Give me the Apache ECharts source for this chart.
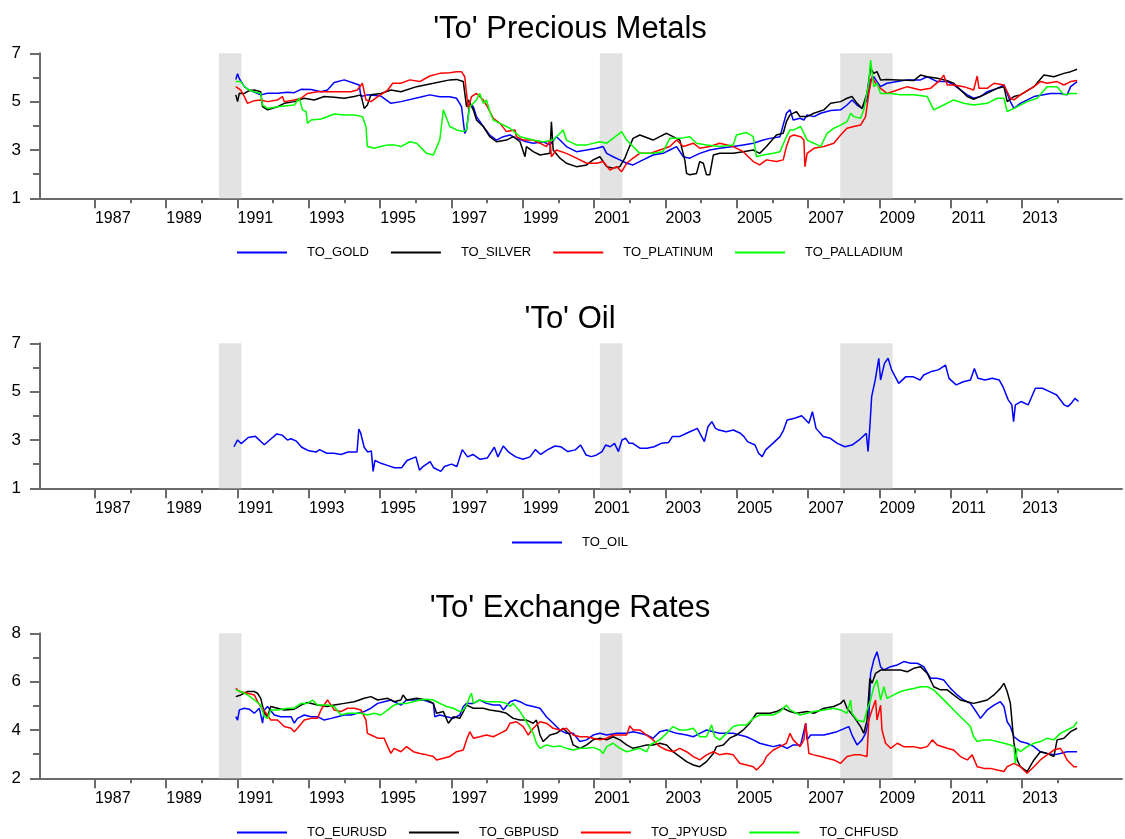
<!DOCTYPE html>
<html><head><meta charset="utf-8">
<script src="https://cdn.jsdelivr.net/npm/echarts@6/dist/echarts.min.js"></script>
<style>html,body{margin:0;padding:0;background:#fff}#c{width:1125px;height:839px}</style>
</head><body><div id="c"></div>
<script>
// ---------- data (decimal year, value) ----------
const gold = [[1990.95,5.92],[1991.0,6.15],[1991.05,5.95],[1991.19,5.62],[1991.33,5.48],[1991.65,5.28],[1991.84,5.35],[1992.12,5.35],[1992.4,5.39],[1992.59,5.37],[1992.78,5.51],[1993.06,5.5],[1993.34,5.41],[1993.52,5.48],[1993.71,5.79],[1993.99,5.9],[1994.27,5.76],[1994.41,5.69],[1994.46,5.21],[1994.64,5.28],[1995.02,5.23],[1995.3,4.93],[1995.58,5.0],
[1996.11,5.18],[1996.39,5.28],[1996.67,5.2],[1996.95,5.2],[1997.14,5.14],[1997.28,4.79],[1997.37,3.69],[1997.42,3.83],[1997.51,4.93],[1997.61,4.79],[1997.7,4.38],[1997.89,3.97],[1998.07,3.62],[1998.26,3.41],[1998.45,3.55],[1998.64,3.62],[1998.82,3.48],[1999.1,3.34],[1999.29,3.28],[1999.57,3.34],[1999.76,3.21],[1999.94,3.55],[2000.04,3.41],[2000.22,3.14],[2000.5,2.93],[2000.79,3.0],[2001.07,3.07],[2001.25,3.14],[2001.35,2.86],[2001.53,2.72],[2001.72,2.59],[2001.91,2.45],[2002.09,2.38],[2002.37,2.59],[2002.65,2.79],[2002.93,2.86],[2003.12,3.0],[2003.31,3.14],[2003.5,2.72],[2003.68,2.66],[2003.96,2.86],[2004.24,3.0],[2004.52,3.07],[2004.9,3.14],[2005.18,3.21],[2005.46,3.28],[2005.74,3.41],[2005.93,3.48],[2006.21,3.55],[2006.39,4.52],[2006.49,4.66],[2006.58,4.24],[2006.77,4.31],
[2006.88,4.24],[2006.97,4.45],[2007.16,4.38],[2007.35,4.52],[2007.63,4.63],[2007.91,4.66],[2008.09,4.86],[2008.23,5.07],[2008.37,4.86],[2008.51,4.72],[2008.65,5.07],[2008.75,5.9],[2008.84,6.03],[2008.93,5.83],[2009.03,5.62],[2009.21,5.76],[2009.5,5.83],[2009.78,5.9],[2010.15,5.9],[2010.34,6.03],[2010.62,5.83],[2010.9,5.83],[2011.08,5.69],[2011.46,5.28],[2011.64,5.14],[2011.83,5.21],[2012.02,5.41],[2012.3,5.55],[2012.49,5.69],[2012.67,5.0],[2012.77,4.72],[2012.95,4.93],[2013.33,5.21],[2013.79,5.34],[2014.07,5.34],[2014.26,5.28],[2014.36,5.62],[2014.54,5.83]];

const silver = [[1990.95,5.28],[1991.0,5.0],[1991.05,5.35],[1991.19,5.34],[1991.33,5.46],[1991.47,5.48],[1991.65,5.41],[1991.7,4.79],[1991.84,4.66],[1992.12,4.79],[1992.31,4.93],[1992.59,5.0],[1992.87,5.14],[1993.15,5.07],[1993.43,5.21],[1993.71,5.18],[1993.99,5.14],[1994.27,5.21],[1994.46,5.28],[1994.55,4.72],[1994.64,4.86],[1994.74,5.28],[1995.02,5.34],[1995.3,5.48],[1995.58,5.41],
[1996.02,5.62],[1996.49,5.76],[1996.95,5.9],[1997.14,5.92],[1997.33,5.83],[1997.42,4.79],[1997.47,5.07],[1997.61,4.66],[1997.7,4.24],[1997.89,3.97],[1998.07,3.55],[1998.26,3.34],[1998.54,3.41],[1998.73,3.55],[1998.92,3.34],[1999.06,2.72],[1999.1,3.14],[1999.29,2.93],[1999.48,2.79],[1999.76,2.86],[1999.8,4.17],[1999.85,3.0],[2000.04,2.66],[2000.22,2.45],[2000.5,2.31],[2000.79,2.38],[2000.97,2.59],[2001.16,2.72],[2001.35,2.31],[2001.53,2.24],[2001.72,2.31],[2001.86,2.66],[2001.95,3.0],[2002.09,3.48],[2002.28,3.62],[2002.65,3.41],[2002.84,3.55],[2003.03,3.69],[2003.21,3.55],[2003.4,3.41],[2003.54,2.59],[2003.59,2.03],[2003.68,1.97],[2003.87,2.03],[2003.96,2.52],[2004.06,2.45],[2004.15,1.97],[2004.24,1.97],[2004.34,2.79],[2004.52,2.86],[2004.9,2.86],[2005.18,2.93],[2005.46,3.0],[2005.64,2.86],[2005.83,3.14],[2006.11,3.62],[2006.3,3.69],[2006.39,4.17],[2006.49,4.45],[2006.67,4.59],[2006.77,4.38],
[2006.97,4.38],[2007.16,4.52],[2007.44,4.66],[2007.63,4.93],[2007.91,5.0],[2008.09,5.14],[2008.23,5.21],[2008.37,4.93],[2008.51,4.72],[2008.65,5.34],[2008.75,6.38],[2008.84,6.17],[2008.93,6.24],[2009.03,5.9],[2009.21,5.92],[2009.5,5.9],[2009.96,5.87],[2010.15,6.1],[2010.34,6.03],[2010.62,5.97],[2010.9,5.87],[2011.08,5.76],[2011.46,5.21],[2011.64,5.1],[2011.93,5.28],[2012.3,5.55],[2012.49,5.62],[2012.58,5.0],[2012.77,5.21],[2012.95,5.28],[2013.33,5.62],[2013.61,6.1],[2013.89,6.03],[2014.17,6.17],[2014.36,6.24],[2014.54,6.34]];

const platinum = [[1990.95,5.62],[1991.09,5.48],[1991.19,5.21],[1991.28,4.93],[1991.47,5.04],[1991.65,5.07],[1991.84,5.0],[1992.12,5.07],[1992.26,5.21],[1992.31,5.0],[1992.59,5.07],[1992.78,5.14],[1992.96,5.34],[1993.24,5.41],[1993.52,5.41],[1993.8,5.41],[1994.18,5.41],[1994.36,5.48],[1994.5,5.76],[1994.6,5.07],[1994.74,5.0],[1994.93,5.21],[1995.21,5.48],[1995.35,5.76],[1995.58,5.76],
[1995.83,5.9],[1996.11,5.83],[1996.39,6.06],[1996.67,6.17],[1996.95,6.2],[1997.14,6.24],[1997.28,6.24],[1997.37,6.03],[1997.42,5.34],[1997.47,4.72],[1997.56,5.21],[1997.7,5.34],[1997.89,5.07],[1998.03,4.72],[1998.17,4.31],[1998.36,4.1],[1998.54,3.76],[1998.78,3.83],[1998.82,3.55],[1999.01,3.41],[1999.29,3.41],[1999.48,3.28],[1999.66,3.14],[1999.76,3.41],[1999.8,2.72],[1999.94,3.0],[2000.22,2.86],[2000.5,2.66],[2000.79,2.45],[2001.07,2.45],[2001.25,2.52],[2001.44,2.17],[2001.63,2.31],[2001.77,2.1],[2001.91,2.45],[2002.09,2.66],[2002.28,2.86],[2002.56,2.86],[2002.84,3.0],[2003.12,3.14],[2003.31,3.41],[2003.5,3.14],[2003.78,3.28],[2003.96,3.07],[2004.24,3.14],[2004.52,3.28],[2004.9,3.14],[2005.18,2.93],[2005.46,2.52],[2005.64,2.38],[2005.83,2.59],[2006.11,2.52],[2006.3,2.59],[2006.39,3.14],[2006.49,3.55],
[2006.6,3.62],[2006.79,3.55],[2006.88,3.41],[2006.91,2.31],[2006.97,2.86],[2007.16,3.07],[2007.44,3.14],[2007.72,3.28],[2007.91,3.62],[2008.09,3.9],[2008.28,3.97],[2008.47,4.03],[2008.61,4.38],[2008.7,5.34],[2008.79,6.03],[2008.89,5.76],[2009.03,5.55],[2009.21,5.34],[2009.5,5.48],[2009.78,5.62],[2010.15,5.48],[2010.43,5.55],[2010.71,5.9],[2010.8,6.1],[2010.9,5.69],[2011.08,5.69],[2011.36,5.62],[2011.64,5.48],[2011.74,6.06],[2011.79,5.55],[2012.02,5.55],[2012.21,5.76],[2012.49,5.69],[2012.67,5.14],[2012.77,5.07],[2012.95,5.28],[2013.33,5.62],[2013.51,5.83],[2013.7,5.76],[2013.98,5.83],[2014.17,5.69],[2014.36,5.83],[2014.54,5.87]];

const palladium = [[1990.95,5.83],[1991.09,5.83],[1991.19,5.62],[1991.33,5.48],[1991.47,5.41],[1991.65,5.34],[1991.7,4.86],[1991.84,4.72],[1992.12,4.79],[1992.31,4.82],[1992.59,4.86],[1992.73,5.14],[1992.82,4.66],[1992.92,4.59],[1992.96,4.1],[1993.06,4.24],[1993.34,4.28],[1993.71,4.49],[1993.99,4.45],[1994.27,4.45],[1994.5,4.38],[1994.6,3.97],[1994.64,3.14],[1994.83,3.07],[1995.02,3.14],[1995.21,3.21],[1995.39,3.21],[1995.58,3.14],
[1995.83,3.34],[1996.02,3.28],[1996.3,2.86],[1996.49,2.79],[1996.67,3.41],[1996.77,4.66],[1996.86,4.31],[1996.95,3.97],[1997.14,3.83],[1997.33,3.76],[1997.42,3.83],[1997.51,4.79],[1997.7,5.07],[1997.79,5.34],[1997.89,4.93],[1997.98,5.07],[1998.07,4.59],[1998.17,4.24],[1998.36,4.1],[1998.64,3.9],[1998.92,3.55],[1999.29,3.41],[1999.57,3.34],[1999.85,3.41],[2000.13,3.83],[2000.22,3.41],[2000.5,3.21],[2000.79,3.21],[2001.16,3.34],[2001.35,3.28],[2001.53,3.48],[2001.77,3.76],[2001.91,3.41],[2002.09,3.14],[2002.28,2.86],[2002.65,2.86],[2002.93,2.93],[2003.12,3.48],[2003.4,3.48],[2003.68,3.55],[2003.87,3.28],[2004.15,3.21],[2004.52,3.14],[2004.9,3.21],[2004.99,3.62],[2005.27,3.72],[2005.46,3.55],[2005.55,2.72],[2005.74,2.79],[2006.02,2.86],[2006.21,2.93],[2006.39,3.55],[2006.49,3.83],
[2006.6,3.83],[2006.79,3.97],[2006.97,3.41],[2007.16,3.28],[2007.35,3.14],[2007.53,3.69],[2007.72,3.9],[2007.91,4.03],[2008.09,4.17],[2008.19,4.52],[2008.28,4.38],[2008.47,4.31],[2008.56,4.66],[2008.7,5.76],[2008.75,6.72],[2008.84,5.62],[2008.93,5.76],[2009.03,5.34],[2009.31,5.34],[2009.59,5.28],[2009.96,5.28],[2010.34,5.21],[2010.52,4.66],[2010.8,4.86],[2011.08,5.07],[2011.36,4.93],[2011.64,4.86],[2012.02,4.93],[2012.3,5.14],[2012.49,5.14],[2012.58,4.59],[2012.77,4.72],[2013.14,5.0],[2013.42,5.14],[2013.7,5.62],[2013.98,5.62],[2014.17,5.28],[2014.36,5.34],[2014.54,5.34]];

const oil = [[1990.9,2.72],[1991.0,3.0],[1991.1,2.85],[1991.3,3.1],[1991.5,3.15],[1991.75,2.8],[1991.9,3.0],[1992.1,3.25],[1992.25,3.2],[1992.4,3.0],[1992.5,3.05],[1992.65,2.95],[1992.8,2.7],[1993.0,2.55],[1993.2,2.5],[1993.3,2.6],[1993.5,2.45],[1993.7,2.45],[1993.9,2.4],[1994.1,2.5],[1994.35,2.5],[1994.4,3.45],[1994.45,3.3],[1994.55,2.7],[1994.65,2.5],[1994.75,2.55],[1994.8,1.7],[1994.85,2.15],[1995.0,2.05],[1995.2,1.95],[1995.4,1.85],[1995.6,1.85],[1995.75,2.15],[1996.0,2.3],[1996.1,1.75],[1996.2,1.9],[1996.4,2.1],[1996.5,1.85],[1996.7,1.7],[1996.8,1.9],[1997.0,2.0],[1997.15,1.9],[1997.3,2.6],[1997.45,2.3],[1997.6,2.4],[1997.8,2.2],[1998.0,2.25],[1998.2,2.7],[1998.3,2.3],[1998.45,2.75],[1998.6,2.5],[1998.8,2.3],[1999.0,2.2],[1999.2,2.3],[1999.35,2.6],[1999.5,2.4],[1999.7,2.6],[1999.9,2.75],
[2000.06,2.72],[2000.26,2.52],[2000.47,2.59],[2000.62,2.79],[2000.77,2.38],[2000.92,2.31],[2001.07,2.38],[2001.22,2.52],[2001.32,2.79],[2001.45,2.72],[2001.57,2.86],[2001.68,2.52],[2001.78,3.0],[2001.88,3.07],[2001.98,2.86],[2002.08,2.86],[2002.28,2.66],[2002.48,2.66],[2002.68,2.72],[2002.88,2.86],[2003.09,2.9],[2003.19,3.14],[2003.39,3.14],[2003.59,3.28],[2003.79,3.41],[2003.89,3.48],[2004.09,2.93],[2004.19,3.55],[2004.3,3.76],[2004.4,3.48],[2004.5,3.41],[2004.7,3.34],[2004.9,3.41],[2005.1,3.28],[2005.2,3.14],[2005.3,2.93],[2005.51,2.79],[2005.61,2.45],[2005.71,2.31],[2005.81,2.59],[2006.01,2.86],[2006.21,3.14],[2006.31,3.41],[2006.41,3.83],[2006.62,3.9],[2006.82,4.0],[2007.02,3.69],[2007.12,4.17],[2007.22,3.48],[2007.42,3.14],[2007.62,3.07],[2007.82,2.86],[2008.03,2.72],[2008.23,2.79],[2008.43,3.0],[2008.63,3.28],[2008.68,2.52],[2008.73,3.55],[2008.78,4.79],[2008.88,5.48],[2008.98,6.38],[2009.03,5.48],[2009.14,6.17],[2009.24,6.38],[2009.34,5.9],[2009.54,5.34],[2009.74,5.62],[2009.94,5.62],[2010.14,5.48],[2010.24,5.69],[2010.45,5.83],[2010.65,5.9],[2010.85,6.1],[2010.95,5.55],[2011.15,5.28],[2011.35,5.41],[2011.55,5.48],[2011.66,5.96],[2011.76,5.55],[2011.96,5.48],[2012.16,5.55],[2012.36,5.48],[2012.46,5.21],[2012.61,4.66],[2012.71,4.45],[2012.76,3.76],[2012.81,4.45],[2012.97,4.59],[2013.17,4.45],[2013.37,5.14],[2013.57,5.14],[2013.77,5.0],[2013.97,4.86],[2014.18,4.45],[2014.28,4.38],[2014.38,4.52],[2014.48,4.72],[2014.58,4.59]];

const eurusd = [[1990.95,4.55],[1991.0,4.41],[1991.05,4.83],[1991.19,4.9],[1991.33,4.86],[1991.47,4.69],[1991.61,4.9],[1991.7,4.28],[1991.75,4.83],[1991.84,4.97],[1992.03,4.62],[1992.21,4.55],[1992.5,4.55],[1992.59,4.28],[1992.68,4.48],[1992.87,4.62],[1993.06,4.55],[1993.24,4.55],[1993.43,4.41],[1993.62,4.48],[1993.8,4.55],[1993.99,4.62],[1994.18,4.62],[1994.36,4.69],[1994.55,4.76],[1994.74,4.9],[1994.93,5.1],[1995.11,5.17],[1995.3,5.24],[1995.58,5.03],
[1995.74,5.24],[1995.93,5.24],[1996.21,5.24],[1996.49,5.1],[1996.53,4.55],[1996.67,4.62],[1996.86,4.55],[1997.05,4.48],[1997.23,4.62],[1997.33,4.97],[1997.42,5.1],[1997.61,5.1],[1997.79,5.24],[1997.98,5.1],[1998.17,5.03],[1998.36,5.03],[1998.45,4.83],[1998.64,5.17],[1998.78,5.24],[1998.92,5.17],[1999.1,5.03],[1999.29,4.97],[1999.48,4.9],[1999.66,4.55],[1999.85,4.28],[2000.04,4.0],[2000.22,3.86],[2000.41,3.86],[2000.6,3.52],[2000.79,3.59],[2000.97,3.79],[2001.16,3.86],[2001.35,3.79],[2001.63,3.86],[2001.91,3.86],[2002.09,3.93],[2002.28,3.86],[2002.47,3.79],[2002.65,3.66],[2002.84,3.93],[2003.03,4.0],[2003.31,3.86],[2003.59,3.79],[2003.78,3.72],[2003.96,3.86],[2004.15,4.0],[2004.34,3.93],[2004.52,3.86],[2004.71,3.86],[2004.9,3.86],[2005.08,3.79],[2005.27,3.72],[2005.46,3.59],[2005.64,3.45],[2005.83,3.38],[2006.02,3.31],[2006.21,3.38],[2006.41,3.24],[2006.58,3.38],[2006.79,3.38],[2006.93,4.28],[2006.97,3.59],[2007.07,3.79],[2007.44,3.79],[2007.81,3.93],[2008.14,4.14],[2008.23,3.79],[2008.37,3.38],[2008.51,3.59],[2008.61,3.86],[2008.7,4.41],[2008.75,6.34],[2008.84,6.9],[2008.93,7.24],[2009.03,6.62],[2009.12,6.48],[2009.31,6.62],[2009.5,6.69],[2009.68,6.83],[2009.87,6.76],[2010.06,6.76],[2010.24,6.62],[2010.43,6.14],[2010.62,6.14],[2010.8,6.07],[2010.99,5.72],[2011.18,5.45],[2011.36,5.24],[2011.55,5.1],[2011.74,4.69],[2011.83,4.48],[2012.02,4.83],[2012.21,5.03],[2012.39,5.17],[2012.49,4.97],[2012.58,4.34],[2012.67,4.14],[2012.77,3.72],[2012.95,3.52],[2013.14,3.45],[2013.33,3.31],[2013.51,3.1],[2013.7,3.03],[2013.89,2.97],[2014.07,3.03],[2014.26,3.1],[2014.54,3.1]];

const gbpusd = [[1990.95,5.38],[1991.09,5.45],[1991.28,5.59],[1991.47,5.59],[1991.56,5.52],[1991.65,5.31],[1991.75,4.69],[1991.84,4.55],[1991.93,4.97],[1992.12,4.9],[1992.31,4.83],[1992.59,4.86],[1992.78,5.03],[1992.96,5.14],[1993.24,5.03],[1993.52,4.97],[1993.71,5.03],[1993.99,5.1],[1994.27,5.17],[1994.55,5.31],[1994.74,5.38],[1994.93,5.24],[1995.21,5.31],[1995.39,5.17],[1995.58,5.24],
[1995.64,5.45],[1995.74,5.24],[1996.02,5.31],[1996.3,5.24],[1996.49,5.1],[1996.58,4.69],[1996.77,4.76],[1996.91,4.28],[1997.05,4.55],[1997.23,4.48],[1997.33,4.76],[1997.42,5.03],[1997.61,4.9],[1997.89,4.9],[1998.07,4.83],[1998.36,4.76],[1998.54,4.69],[1998.73,4.48],[1998.92,4.41],[1999.1,4.41],[1999.29,4.28],[1999.38,4.41],[1999.48,3.79],[1999.57,3.52],[1999.76,3.79],[1999.94,3.86],[2000.13,4.07],[2000.32,3.79],[2000.41,3.38],[2000.6,3.24],[2000.79,3.38],[2000.97,3.59],[2001.16,3.66],[2001.35,3.59],[2001.53,3.72],[2001.72,3.59],[2001.91,3.38],[2002.09,3.24],[2002.28,3.31],[2002.47,3.38],[2002.65,3.38],[2002.84,3.45],[2003.03,3.38],[2003.21,3.1],[2003.4,2.9],[2003.59,2.69],[2003.78,2.55],[2003.96,2.48],[2004.15,2.69],[2004.34,3.03],[2004.43,3.31],[2004.62,3.38],[2004.8,3.66],[2004.99,3.79],[2005.18,4.0],[2005.36,4.28],[2005.55,4.69],[2005.74,4.69],[2005.93,4.69],[2006.11,4.76],[2006.3,4.9],[2006.49,4.76],[2006.67,4.69],
[2006.97,4.76],[2007.16,4.69],[2007.44,4.9],[2007.72,4.97],[2007.91,5.1],[2008.0,5.24],[2008.09,4.9],[2008.28,4.55],[2008.47,4.14],[2008.56,3.86],[2008.65,4.41],[2008.73,6.14],[2008.79,5.93],[2008.89,6.34],[2009.03,6.48],[2009.21,6.48],[2009.4,6.48],[2009.59,6.48],[2009.78,6.41],[2009.96,6.55],[2010.15,6.62],[2010.34,6.34],[2010.52,5.79],[2010.71,5.66],[2010.9,5.66],[2011.08,5.45],[2011.27,5.24],[2011.46,5.17],[2011.64,5.1],[2011.83,5.17],[2012.02,5.24],[2012.21,5.45],[2012.39,5.72],[2012.49,5.93],[2012.58,5.59],[2012.67,5.1],[2012.77,3.45],[2012.86,2.76],[2012.95,2.48],[2013.14,2.28],[2013.33,2.76],[2013.51,3.1],[2013.7,3.03],[2013.89,2.9],[2013.98,3.59],[2014.17,3.66],[2014.36,3.93],[2014.54,4.07]];

const jpyusd = [[1990.95,5.72],[1991.05,5.59],[1991.19,5.55],[1991.47,5.45],[1991.56,5.17],[1991.65,4.97],[1991.84,4.62],[1991.93,4.41],[1992.12,4.41],[1992.31,4.14],[1992.5,4.07],[1992.59,3.93],[1992.68,4.07],[1992.87,4.41],[1993.06,4.48],[1993.24,4.48],[1993.34,4.83],[1993.52,5.24],[1993.62,5.03],[1993.71,4.83],[1993.9,4.76],[1994.08,4.9],[1994.27,4.9],[1994.46,4.83],[1994.6,4.41],[1994.64,3.86],[1994.74,3.79],[1994.93,3.66],[1995.11,3.66],[1995.21,3.31],[1995.3,3.03],[1995.39,3.24],[1995.58,3.1],
[1995.74,3.31],[1995.93,3.1],[1996.11,3.03],[1996.3,2.97],[1996.49,2.9],[1996.58,2.76],[1996.77,2.83],[1996.95,2.9],[1997.14,3.1],[1997.33,3.17],[1997.42,3.59],[1997.51,3.93],[1997.61,3.66],[1997.79,3.72],[1997.98,3.79],[1998.17,3.72],[1998.36,3.86],[1998.54,4.0],[1998.64,4.28],[1998.82,4.34],[1999.01,4.14],[1999.15,3.79],[1999.29,4.07],[1999.48,4.34],[1999.66,4.28],[1999.85,4.07],[2000.04,4.0],[2000.22,4.07],[2000.41,3.79],[2000.6,3.72],[2000.79,3.72],[2000.97,3.66],[2001.16,3.59],[2001.35,3.66],[2001.53,3.79],[2001.72,3.79],[2001.91,3.79],[2002.0,4.17],[2002.09,4.0],[2002.28,4.0],[2002.47,3.79],[2002.65,3.59],[2002.84,3.31],[2003.03,3.17],[2003.21,3.1],[2003.4,3.24],[2003.59,3.1],[2003.78,2.9],[2003.96,2.76],[2004.15,2.97],[2004.34,3.1],[2004.52,2.97],[2004.71,3.03],[2004.9,2.97],[2005.08,2.62],[2005.27,2.55],[2005.46,2.48],[2005.55,2.34],[2005.74,2.62],[2005.83,2.9],[2006.02,3.17],[2006.21,3.31],[2006.39,3.45],[2006.49,3.86],[2006.58,3.59],[2006.77,3.31],
[2006.88,3.59],[2006.93,4.28],[2007.02,3.03],[2007.16,2.97],[2007.35,2.9],[2007.53,2.83],[2007.72,2.76],[2007.91,2.62],[2008.09,2.9],[2008.28,2.97],[2008.47,2.97],[2008.65,2.9],[2008.7,4.41],[2008.79,4.83],[2008.89,5.24],[2008.93,4.41],[2009.03,5.03],[2009.07,4.0],[2009.17,3.45],[2009.31,3.24],[2009.5,3.45],[2009.68,3.31],[2009.96,3.31],[2010.15,3.24],[2010.34,3.31],[2010.48,3.59],[2010.62,3.38],[2010.9,3.24],[2011.08,3.17],[2011.27,2.9],[2011.46,2.76],[2011.6,2.97],[2011.74,2.48],[2011.93,2.41],[2012.11,2.41],[2012.3,2.34],[2012.49,2.28],[2012.58,2.48],[2012.77,2.62],[2012.95,2.48],[2013.14,2.21],[2013.33,2.48],[2013.51,2.76],[2013.7,2.97],[2013.89,3.17],[2014.07,3.24],[2014.17,3.03],[2014.26,2.76],[2014.45,2.48],[2014.54,2.48]];

const chfusd = [[1990.95,5.66],[1991.09,5.59],[1991.28,5.45],[1991.47,5.24],[1991.65,5.03],[1991.75,4.55],[1991.84,4.48],[1991.93,4.83],[1992.12,4.83],[1992.4,4.9],[1992.59,4.9],[1992.78,5.1],[1992.96,5.1],[1993.1,5.24],[1993.24,5.03],[1993.52,5.03],[1993.71,4.97],[1993.9,4.62],[1994.08,4.69],[1994.27,4.69],[1994.46,4.69],[1994.64,4.62],[1994.83,4.69],[1995.02,4.62],[1995.21,4.83],[1995.39,5.03],[1995.58,5.1],
[1995.74,5.1],[1995.93,5.17],[1996.11,5.24],[1996.3,5.27],[1996.49,5.24],[1996.67,5.1],[1996.86,4.97],[1997.05,4.9],[1997.23,4.76],[1997.33,4.83],[1997.42,5.03],[1997.51,5.38],[1997.56,5.52],[1997.61,5.1],[1997.79,5.24],[1997.98,5.17],[1998.17,5.17],[1998.36,5.17],[1998.54,5.1],[1998.64,4.97],[1998.73,5.1],[1998.92,4.76],[1999.1,4.34],[1999.29,3.86],[1999.38,3.45],[1999.48,3.24],[1999.66,3.38],[1999.85,3.31],[2000.04,3.34],[2000.22,3.24],[2000.41,3.17],[2000.6,3.24],[2000.79,3.24],[2000.97,3.28],[2001.16,3.17],[2001.25,3.03],[2001.35,3.31],[2001.53,3.45],[2001.72,3.24],[2001.91,3.1],[2002.09,3.17],[2002.28,3.24],[2002.47,3.1],[2002.56,3.38],[2002.65,3.45],[2002.84,3.59],[2003.03,3.86],[2003.21,4.14],[2003.4,4.0],[2003.59,4.0],[2003.78,4.07],[2003.96,3.72],[2004.15,3.72],[2004.29,4.21],[2004.38,3.72],[2004.52,3.59],[2004.71,3.86],[2004.9,4.14],[2005.08,4.21],[2005.27,4.21],[2005.46,4.48],[2005.64,4.62],[2005.83,4.62],[2006.02,4.62],[2006.21,4.76],[2006.39,5.03],[2006.49,4.83],[2006.77,4.62],
[2006.97,4.69],[2007.16,4.76],[2007.44,4.83],[2007.72,4.9],[2007.91,4.83],[2008.09,4.69],[2008.19,5.24],[2008.23,4.69],[2008.37,4.41],[2008.56,4.34],[2008.65,4.83],[2008.75,5.24],[2008.84,5.79],[2008.93,6.07],[2009.03,5.24],[2009.12,5.79],[2009.21,5.31],[2009.4,5.45],[2009.59,5.59],[2009.78,5.66],[2009.96,5.72],[2010.15,5.79],[2010.34,5.79],[2010.52,5.66],[2010.71,5.38],[2010.9,5.1],[2011.08,4.83],[2011.27,4.55],[2011.46,4.28],[2011.55,4.14],[2011.64,3.72],[2011.74,3.52],[2011.93,3.59],[2012.11,3.59],[2012.3,3.52],[2012.49,3.45],[2012.67,3.38],[2012.77,3.31],[2012.81,2.62],[2012.86,3.24],[2012.95,3.1],[2013.14,3.31],[2013.33,3.45],[2013.51,3.52],[2013.7,3.66],[2013.89,3.59],[2014.07,3.86],[2014.26,4.0],[2014.45,4.14],[2014.54,4.34]];

// recession periods (decimal years)
const recessions = [[1990.48,1991.11],[2001.16,2001.79],[2007.9,2009.37]];
// tick labels
const labelYears = [1987,1989,1991,1993,1995,1997,1999,2001,2003,2005,2007,2009,2011,2013];
const minorYears = [1988,1990,1992,1994,1996,1998,2000,2002,2004,2006,2008,2010,2012,2014];
const metalTicks = [1,3,5,7], metalMinor = [2,4,6];
const oilTicks = [1,3,5,7], oilMinor = [2,4,6];
const fxTicks = [2,4,6,8], fxMinor = [3,5,7];
const titles = ["'To' Precious Metals", "'To' Oil", "'To' Exchange Rates"];

// ---------- layout ----------
const FONT = 'Liberation Sans, Arial, sans-serif';
const X_MIN = 1985.46, X_MAX = 2015.8;
const AXIS_COLOR = '#6b6b6b';
const panels = [
  {top: 53.3, yMin: 1, yMax: 7, major: metalTicks, minor: metalMinor, titleTop: 14, legendTop: 246,
   series: [['TO_GOLD', gold, '#0000ff'], ['TO_SILVER', silver, '#000000'], ['TO_PLATINUM', platinum, '#ff0000'], ['TO_PALLADIUM', palladium, '#00ff00']], legendLeft: 237},
  {top: 343.3, yMin: 1, yMax: 7, major: oilTicks, minor: oilMinor, titleTop: 304, legendTop: 536,
   series: [['TO_OIL', oil, '#0000ff']], legendLeft: 512},
  {top: 633.3, yMin: 2, yMax: 8, major: fxTicks, minor: fxMinor, titleTop: 593, legendTop: 826,
   series: [['TO_EURUSD', eurusd, '#0000ff'], ['TO_GBPUSD', gbpusd, '#000000'], ['TO_JPYUSD', jpyusd, '#ff0000'], ['TO_CHFUSD', chfusd, '#00ff00']], legendLeft: 237}
];
const PH = 145;

const option = {animation: false, backgroundColor: '#fff', title: [], grid: [], xAxis: [], yAxis: [], legend: [], series: []};
panels.forEach((p, i) => {
  option.title.push({text: titles[i], left: 570, textAlign: 'center', top: p.titleTop, padding: 0,
    textStyle: {fontFamily: FONT, fontSize: 31, fontWeight: 'normal', color: '#000'}});
  option.grid.push({left: 40, right: 3, top: p.top, height: PH, containLabel: false});
  option.xAxis.push({type: 'value', gridIndex: i, min: X_MIN, max: X_MAX, position: 'bottom',
    axisLine: {show: true, onZero: false, lineStyle: {color: AXIS_COLOR, width: 2}},
    axisTick: {show: true, length: 10, customValues: labelYears, lineStyle: {color: AXIS_COLOR, width: 2}},
    axisLabel: {show: true, customValues: labelYears.map(y => y + 0.5), formatter: v => String(Math.floor(v)),
      margin: 12, fontFamily: FONT, fontSize: 16, color: '#000'},
    splitLine: {show: false}});
  option.xAxis.push({type: 'value', gridIndex: i, min: X_MIN, max: X_MAX, position: 'bottom',
    axisLine: {show: false, onZero: false},
    axisTick: {show: true, length: 5, customValues: minorYears, lineStyle: {color: AXIS_COLOR, width: 2}},
    axisLabel: {show: false}, splitLine: {show: false}});
  option.yAxis.push({type: 'value', gridIndex: i, min: p.yMin, max: p.yMax, position: 'left',
    axisLine: {show: true, onZero: false, lineStyle: {color: AXIS_COLOR, width: 2}},
    axisTick: {show: true, length: 10, customValues: p.major, lineStyle: {color: AXIS_COLOR, width: 2}},
    axisLabel: {show: true, customValues: p.major, margin: 19, fontFamily: FONT, fontSize: 17, color: '#000'},
    splitLine: {show: false}});
  option.yAxis.push({type: 'value', gridIndex: i, min: p.yMin, max: p.yMax, position: 'left',
    axisLine: {show: false, onZero: false},
    axisTick: {show: true, length: 7, customValues: p.minor, lineStyle: {color: AXIS_COLOR, width: 2}},
    axisLabel: {show: false}, splitLine: {show: false}});
  option.legend.push({left: p.legendLeft, top: p.legendTop, padding: 0, orient: 'horizontal',
    icon: 'rect', itemWidth: 50, itemHeight: 2, itemGap: 22, selectedMode: false,
    data: p.series.map(s => s[0]),
    textStyle: {fontFamily: FONT, fontSize: 13, color: '#000', padding: [0, 0, 0, 15]}});
  // recession shading
  option.series.push({type: 'line', xAxisIndex: 2 * i, yAxisIndex: 2 * i, data: [], silent: true, z: 1,
    markArea: {silent: true, itemStyle: {color: '#e3e3e3'},
      data: recessions.map(r => [{xAxis: r[0]}, {xAxis: r[1]}])}});
  p.series.forEach(s => {
    option.series.push({type: 'line', name: s[0], data: s[1], xAxisIndex: 2 * i, yAxisIndex: 2 * i,
      showSymbol: false, symbol: 'none', z: 3, color: s[2],
      lineStyle: {width: 1.5, color: s[2]}});
  });
});

const chart = echarts.init(document.getElementById('c'), null, {renderer: 'canvas'});
chart.setOption(option);
</script></body></html>
